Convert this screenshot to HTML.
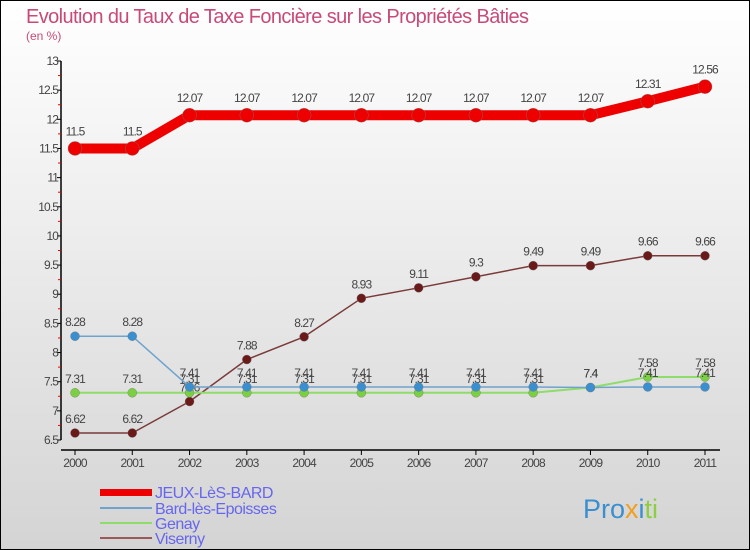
<!DOCTYPE html>
<html><head><meta charset="utf-8"><style>
body{margin:0}
svg{display:block;font-family:"Liberation Sans",sans-serif}
</style></head><body>
<svg id="c" width="750" height="550">
<defs><linearGradient id="bg" x1="0" y1="0" x2="0" y2="1"><stop offset="0" stop-color="#ffffff"/><stop offset="1" stop-color="#d4d4d4"/></linearGradient></defs>
<rect x="0.5" y="0.5" width="749" height="549" fill="url(#bg)" stroke="#000"/>
<text x="26" y="23" font-size="20" fill="#c84a78" letter-spacing="-0.6">Evolution du Taux de Taxe Foncière sur les Propriétés Bâties</text>
<text x="26" y="40" font-size="12" fill="#c84a78">(en %)</text>
<g id="axes"></g><g id="series"></g>
<g>
<rect x="100" y="489" width="52" height="7" fill="#e00"/>
<text x="155" y="498" font-size="16" fill="#6666ee" letter-spacing="-0.5">JEUX-LèS-BARD</text>
<rect x="100" y="507" width="52" height="2" fill="#6fa3cc"/>
<text x="155" y="514" font-size="16" fill="#6666ee" letter-spacing="-0.5">Bard-lès-Epoisses</text>
<rect x="100" y="522" width="52" height="2" fill="#8edc6a"/>
<text x="155" y="529" font-size="16" fill="#6666ee" letter-spacing="-0.5">Genay</text>
<rect x="100" y="537" width="52" height="2" fill="#9a5a5a"/>
<text x="155" y="544" font-size="16" fill="#6666ee" letter-spacing="-0.5">Viserny</text>
</g>
<text x="583" y="518" font-size="27" fill="#3a8fd0">Pro<tspan fill="#f0a020">x</tspan><tspan fill="#3a8fd0">i</tspan><tspan fill="#8ccf40">ti</tspan></text>
</svg>
<script>
const years=["2000","2001","2002","2003","2004","2005","2006","2007","2008","2009","2010","2011"];
const yTicks=[6.5,7,7.5,8,8.5,9,9.5,10,10.5,11,11.5,12,12.5,13];
const jeux=[11.5,11.5,12.07,12.07,12.07,12.07,12.07,12.07,12.07,12.07,12.31,12.56];
const bard=[8.28,8.28,7.41,7.41,7.41,7.41,7.41,7.41,7.41,7.4,7.41,7.41];
const genay=[7.31,7.31,7.31,7.31,7.31,7.31,7.31,7.31,7.31,7.4,7.58,7.58];
const viserny=[6.62,6.62,7.16,7.88,8.27,8.93,9.11,9.3,9.49,9.49,9.66,9.66];
const NS="http://www.w3.org/2000/svg";
const X=i=>75+i*(630/11);
const Y=v=>440-(v-6.5)*(379/6.5);
function mk(t,a,p){const e=document.createElementNS(NS,t);for(const k in a)e.setAttribute(k,a[k]);p.appendChild(e);return e;}
const ax=document.getElementById('axes');
let l=mk('line',{x1:61,y1:Y(13),x2:61,y2:440,stroke:'#000','stroke-width':1.5},ax);


l=mk('line',{x1:61,y1:450,x2:720,y2:450,stroke:'#000','stroke-width':1.5},ax);


yTicks.forEach((v,i)=>{
 mk('line',{x1:57,y1:Y(v),x2:61,y2:Y(v),stroke:'#000'},ax);
 if(i<yTicks.length-1)mk('line',{x1:58,y1:Y(v+0.25),x2:61,y2:Y(v+0.25),stroke:'#e00'},ax);
 const t=mk('text',{x:58,y:Y(v)+4,'text-anchor':'end','font-size':12,fill:'#444','letter-spacing':-0.9},ax);
 t.textContent=String(v);
 
 
});
years.forEach((y,i)=>{
 mk('line',{x1:X(i),y1:450,x2:X(i),y2:455,stroke:'#000'},ax);
 const t=mk('text',{x:X(i),y:467,'text-anchor':'middle','font-size':12,fill:'#444','letter-spacing':-0.8},ax);
 t.textContent=y;
 
 
});
const sg=document.getElementById('series');
function series(d,name,col,w,r,dot){
 const g=mk('g',{},sg);
 
 
 const p=mk('polyline',{points:d.map((v,i)=>X(i)+','+Y(v)).join(' '),fill:'none',stroke:col,'stroke-width':w,'stroke-linejoin':'round'},g);
 
 
 d.forEach((v,i)=>{
  const c=mk('circle',{cx:X(i),cy:Y(v),r:r,fill:dot,stroke:'#777','stroke-width':0.4},g);
  
  
  const t=mk('text',{x:X(i),y:Y(v)-(name==='jeux'?13:10),'text-anchor':'middle','font-size':12,fill:'#444','letter-spacing':-0.9},g);
  t.textContent=String(v);
  
  
 });
}
series(viserny,'viserny','#7a3a3a',1.5,4.5,'#6b1a1a');
series(genay,'genay','#8edc6a',2,4.5,'#7ad040');
series(bard,'bard','#6fa3cc',1.5,4.5,'#3a8fd0');
series(jeux,'jeux','#e00',10,7,'#e00');
</script>
</body></html>
